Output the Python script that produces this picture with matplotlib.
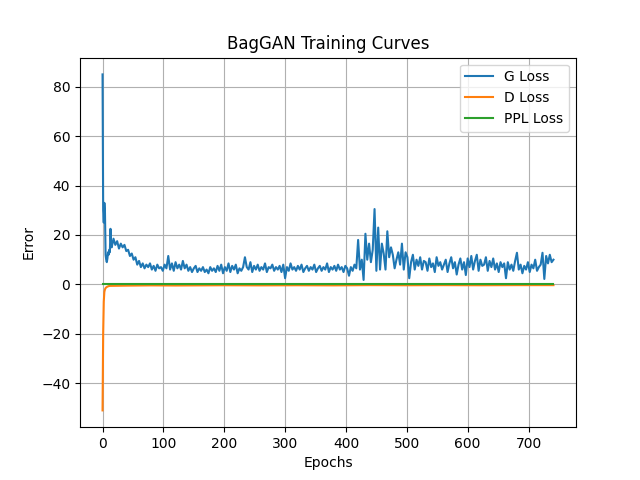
import matplotlib
matplotlib.use("Agg")
import matplotlib.pyplot as plt

# generator loss, every epoch for the first 15, then every 3rd epoch
g_early = [85, 30, 25, 33, 29, 12, 10, 9, 10.5, 13, 12, 14, 13, 22.5, 17]
g_late = [
    15, 18.5, 16, 17.5, 14.5, 16.5, 15, 16, 13.5, 14,
    11.5, 12.5, 10, 11, 8, 9.5, 7, 8.5, 6.5, 8,
    7, 8.5, 6, 7.5, 5.5, 8, 6.5, 7, 5.5, 8, 6.5,
    11.5, 6, 8.5, 5.5, 9, 6.5, 8, 6, 9.5, 6.5,
    8, 5.5, 7, 5, 6.5, 7.5, 5, 6.5, 5.5, 7,
    5, 6, 4.5, 7, 5.5, 6.5, 5, 7.5, 5.5, 8,
    4.5, 7, 5.5, 8.5, 5, 7.5, 6, 8, 4.5, 6.5,
    5.5, 7, 11, 7, 6, 9, 5, 7.5, 6, 8,
    5.5, 7, 6, 8.5, 5, 7, 6.5, 8, 5.5, 7,
    6, 7.5, 5, 8, 2.5, 7, 5.5, 8.5, 6, 7,
    5.5, 7.5, 6, 8, 5, 6.5, 7.5, 5.5, 7, 6,
    8, 5, 6.5, 7.5, 5.5, 7, 6, 8.5, 5, 7,
    6, 7.5, 5.5, 8, 6, 7, 5, 7.5, 6.5, 3.5,
    7, 5.5, 8, 6.5, 18, 6, 10, 1.8, 20.5, 10,
    16.5, 9, 14, 30.5, 5.5, 23, 6, 16.5, 12.5, 6,
    21.5, 11, 15, 12, 6.5, 10, 13, 8, 16.5, 6,
    13, 11, 2.5, 9, 12, 6, 10, 7.5, 11, 6, 9.5,
    9, 5.5, 10.5, 7, 8.5, 5, 11, 7.5, 9, 6, 8,
    10, 5, 8.5, 11, 6.5, 9, 4, 8, 10.5, 6,
    9, 3.8, 10.5, 7, 11.5, 6, 9.5, 12, 5.5, 10, 7.5,
    8, 11, 5.5, 9.5, 7, 10.5, 6, 8.5, 5, 9,
    7, 8.5, 2.5, 9, 6, 8, 5.5, 9.5, 12.8, 6,
    8, 4.5, 7.5, 6, 9, 5, 8, 6.5, 10, 5.5, 7,
    8, 12.8, 2.2, 11.5, 8.5, 12, 9, 10,
]
g_epochs = list(range(len(g_early))) + list(range(15, 15 + 3 * len(g_late), 3))
g_loss = g_early + g_late

# discriminator loss
d_epochs = [0, 1, 2, 3, 4, 5, 6, 8, 10, 12, 40, 80, 120, 160, 200, 260, 320,
            380, 440, 500, 560, 620, 680, 741]
d_loss = [-51, -20, -7, -3, -2, -1.5, -1.2, -0.9, -0.7, -0.6, -0.5, -0.4,
          -0.45, -0.4, -0.35, -0.4, -0.35, -0.4, -0.3, -0.35, -0.3, -0.35,
          -0.3, -0.3]

# path length penalty loss
ppl_epochs = [0, 100, 200, 300, 400, 500, 600, 700, 741]
ppl_loss = [0.1, 0.1, 0.1, 0.1, 0.1, 0.1, 0.1, 0.1, 0.1]

fig, ax = plt.subplots(figsize=(6.4, 4.8), dpi=100)
ax.plot(g_epochs, g_loss, label="G Loss")
ax.plot(d_epochs, d_loss, label="D Loss")
ax.plot(ppl_epochs, ppl_loss, label="PPL Loss")
ax.set_title("BagGAN Training Curves")
ax.set_xlabel("Epochs")
ax.set_ylabel("Error")
ax.grid(True)
ax.legend(loc="upper right")
fig.savefig("out.png")
